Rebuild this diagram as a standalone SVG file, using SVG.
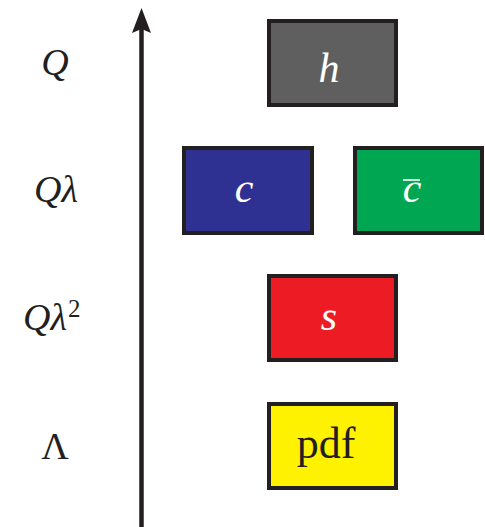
<svg xmlns="http://www.w3.org/2000/svg" width="485" height="527" viewBox="0 0 485 527">
<style>
.box{stroke:#231f20;stroke-width:4}
.lbl{font-family:"Liberation Serif","DejaVu Serif",serif;font-size:38px;fill:#231f20}
.it{font-style:italic}
.w{fill:#ffffff;font-family:"Liberation Serif","DejaVu Serif",serif;font-style:italic;font-size:42px;text-anchor:middle}
</style>
<rect width="485" height="527" fill="#ffffff"/>
<g id="connectors">
<line x1="141.5" y1="527" x2="141.5" y2="28" stroke="#231f20" stroke-width="4.5"/>
<polygon points="141.5,8 151,33 141.5,29 132,33" fill="#231f20"/>
</g>
<g id="label-Q"><text class="lbl it" x="55" y="75" text-anchor="middle">Q</text></g>
<g id="label-Qlambda"><text class="lbl it" x="56" y="202" text-anchor="middle">Qλ</text></g>
<g id="label-Qlambda2"><text class="lbl it" x="23" y="330">Qλ<tspan font-style="normal" font-size="25" dx="1" dy="-13">2</tspan></text></g>
<g id="label-Lambda"><text class="lbl" x="55" y="459" text-anchor="middle">Λ</text></g>
<g id="node-h">
<rect class="box" x="269" y="21" width="127" height="84" fill="#5f5f5f"/>
<text class="w" x="329" y="82">h</text>
</g>
<g id="node-c">
<rect class="box" x="184" y="148" width="128" height="85" fill="#2e3192"/>
<text class="w" x="244" y="202">c</text>
</g>
<g id="node-cbar">
<rect class="box" x="355" y="148" width="127" height="85" fill="#00a651"/>
<text class="w" x="412" y="202">c</text>
<line x1="403" y1="180" x2="420" y2="180" stroke="#ffffff" stroke-width="1.6"/>
</g>
<g id="node-s">
<rect class="box" x="269" y="276" width="127" height="84" fill="#ed1c24"/>
<text class="w" x="329" y="330">s</text>
</g>
<g id="node-pdf">
<rect class="box" x="269" y="404" width="127" height="84" fill="#fff200"/>
<text x="326" y="458" text-anchor="middle" font-family="'Liberation Serif',serif" font-size="44" fill="#231f20">pdf</text>
</g>
</svg>
